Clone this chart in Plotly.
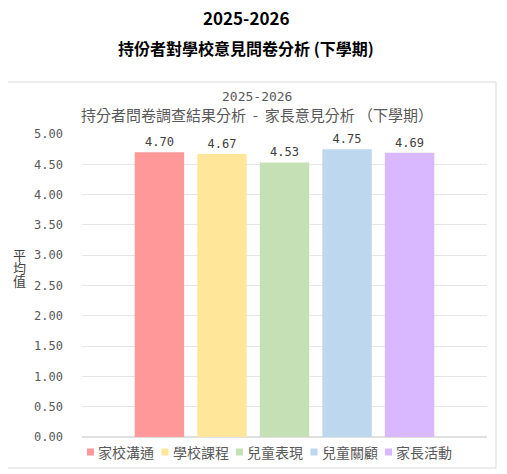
import plotly.graph_objects as go

categories = ["家校溝通", "學校課程", "兒童表現", "兒童關顧", "家長活動"]
values = [4.70, 4.67, 4.53, 4.75, 4.69]
colors = ["#FF9999", "#FFE699", "#C5E0B4", "#BDD7EE", "#D9B8FF"]
y_ticks = [0, 0.5, 1.0, 1.5, 2.0, 2.5, 3.0, 3.5, 4.0, 4.5, 5.0]

W, H = 507, 474
OFF = 8  # page body margin offset
L = 82 - OFF
T = 134 - OFF
R = W - (487 - OFF)
B = H - (437 - OFF)
ph = H - T - B
pw = W - L - R

def py(ypix):
    return (H - B - (ypix - OFF)) / ph

def px(xpix):
    return ((xpix - OFF) - L) / pw

MONO = "DejaVu Sans Mono, Noto Sans CJK TC, sans-serif"
CJK = "Noto Sans CJK TC, sans-serif"

fig = go.Figure()
for name, v, c in zip(categories, values, colors):
    fig.add_trace(go.Bar(
        x=[""], y=[v], name=name, marker=dict(color=c, line=dict(width=0)),
        texttemplate="%{y:.2f}", textposition="outside",
        textfont=dict(family=MONO, size=12, color="#404040"),
        cliponaxis=False, showlegend=False,
    ))

fig.update_layout(
    width=W, height=H,
    margin=dict(l=L, r=R, t=T, b=B, autoexpand=False),
    paper_bgcolor="white", plot_bgcolor="white",
    barmode="group", bargap=0.228, bargroupgap=0.21,
    showlegend=False,
    xaxis=dict(showticklabels=False, showline=False, showgrid=False, zeroline=False,
               fixedrange=True, automargin=False),
    yaxis=dict(range=[0, 5], tickvals=y_ticks, ticktext=[f"{t:.2f}" for t in y_ticks],
               tickfont=dict(family=MONO, size=12, color="#595959"),
               showgrid=True, gridcolor="#E6E6E6", gridwidth=1, zeroline=True, zerolinecolor="#E0E0E0",
               showline=False, ticks="", ticklabelstandoff=18, automargin=False),
    font=dict(family=CJK),
)

fig.add_shape(type="rect", xref="paper", yref="paper",
              x0=px(6), x1=px(496), y0=py(468), y1=py(82),
              line=dict(color="#D9D9D9", width=1), fillcolor="rgba(0,0,0,0)", layer="below")

anns = [
    dict(text="<b>2025-2026</b>", x=px(246), y=py(17), font=dict(family=CJK, size=17, color="#000000")),
    dict(text="<b>持份者對學校意見問卷分析 (下學期)</b>", x=px(246), y=py(48), font=dict(family=CJK, size=16, color="#000000")),
    dict(text="2025-2026", x=px(257), y=py(96), font=dict(family=MONO, size=13, color="#595959")),
    dict(text="持分者問卷調查結果分析\u00a0\u00a0-\u00a0\u00a0家長意見分析 （下學期）", x=px(257), y=py(114),
         font=dict(family=CJK, size=15, color="#595959")),
    dict(text="平", x=px(19), y=py(254), font=dict(family=CJK, size=13, color="#404040")),
    dict(text="均", x=px(19), y=py(267), font=dict(family=CJK, size=13, color="#404040")),
    dict(text="值", x=px(19), y=py(280), font=dict(family=CJK, size=13, color="#404040")),
]
for a in anns:
    fig.add_annotation(xref="paper", yref="paper", showarrow=False, xanchor="center", yanchor="middle", **a)

# manual legend
leg_x0, leg_pitch, leg_y = 87, 74.5, 452
for i, (name, c) in enumerate(zip(categories, colors)):
    sx = leg_x0 + i * leg_pitch
    fig.add_shape(type="rect", xref="paper", yref="paper",
                  x0=px(sx), x1=px(sx + 7), y0=py(leg_y + 3.5), y1=py(leg_y - 3.5),
                  line=dict(width=0), fillcolor=c)
    fig.add_annotation(xref="paper", yref="paper", showarrow=False, xanchor="left", yanchor="middle",
                       x=px(sx + 9), y=py(leg_y), text=name,
                       font=dict(family=CJK, size=14, color="#595959"))

fig.write_html("out.html")
